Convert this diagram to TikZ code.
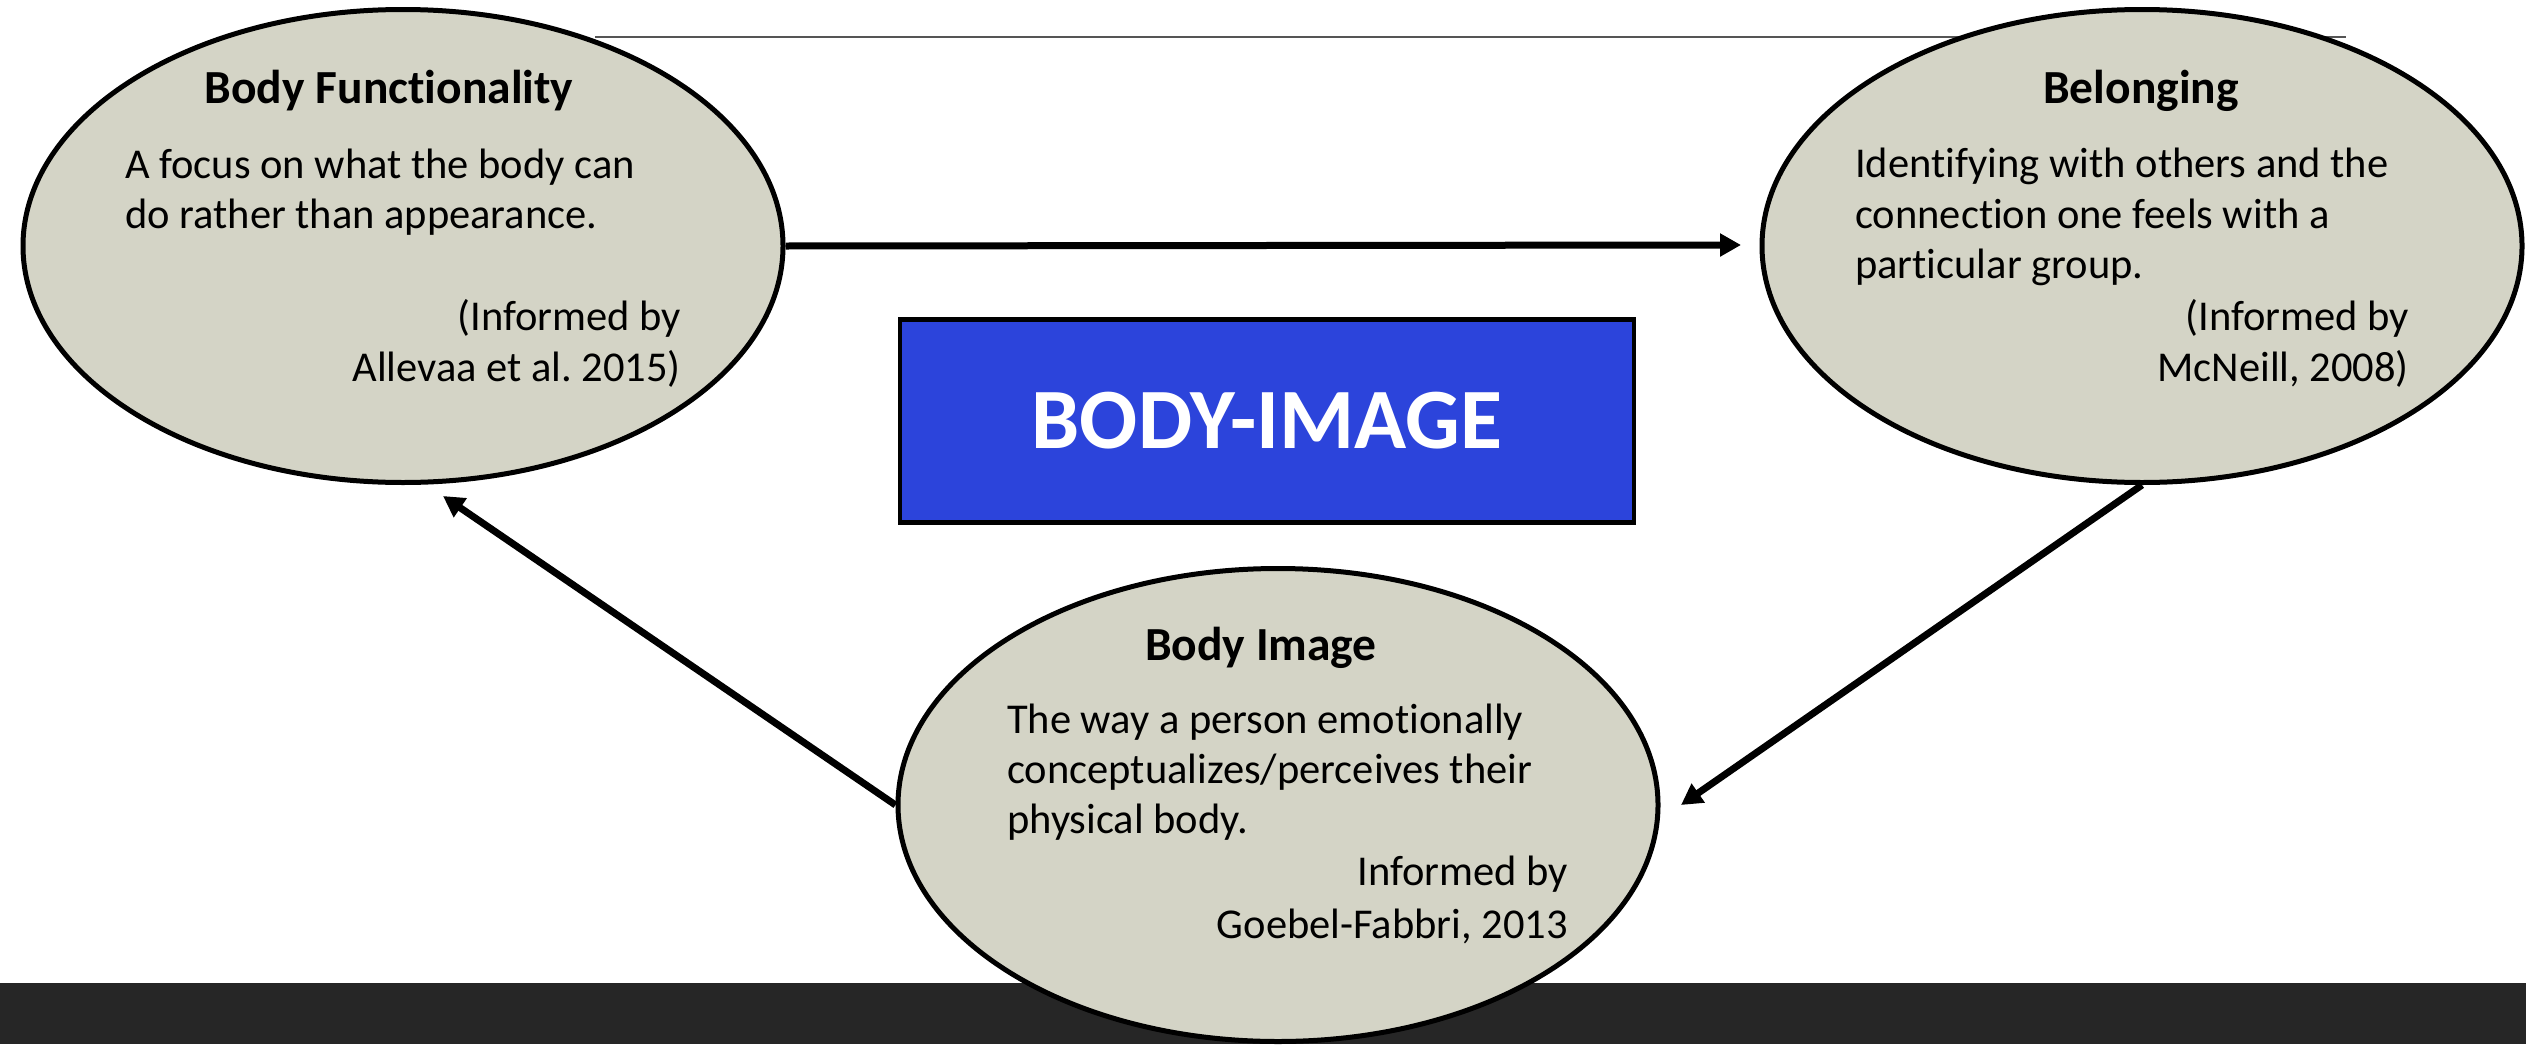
\documentclass[tikz,border=0pt]{standalone}
\usepackage{fontspec}
\setmainfont[RawFeature={-liga;-clig}]{Carlito}
\frenchspacing
\usetikzlibrary{shapes.geometric,arrows.meta}
\definecolor{ellfill}{RGB}{212,212,198}
\definecolor{boxblue}{RGB}{44,68,219}
\definecolor{barcol}{RGB}{38,38,38}
\definecolor{topline}{RGB}{85,85,85}
\tikzset{
  oval/.style={ellipse, draw=black, line width=5pt, fill=ellfill, minimum width=760pt, minimum height=473pt, inner sep=0pt},
  ttl/.style={anchor=base, font=\fontsize{47.5}{55}\selectfont\bfseries, inner sep=0pt},
  bodyl/.style={anchor=base west, font=\fontsize{42.5}{50}\selectfont, inner sep=0pt},
  bodyr/.style={anchor=base east, font=\fontsize{42.5}{50}\selectfont, inner sep=0pt},
  conn/.style={line width=7pt, -{Triangle[length=21pt,width=22pt]}},
}
\begin{document}
\begin{tikzpicture}[x=1pt,y=-1pt]
\useasboundingbox (0,0) rectangle (2526,1044);
% bottom bar
\fill[barcol] (0,983) rectangle (2526,1044);
% top thin line (behind ellipses)
\coordinate (tl1) at (595,37);
\coordinate (tl2) at (2346,37);
\draw[topline, line width=2.5pt] (tl1) -- (tl2);
% ellipses
\node[oval] (L) at (403,246) {};
\node[oval] (R) at (2142,246) {};
\node[oval] (B) at (1278,805) {};
% central box
\node[draw=black, line width=4.5pt, fill=boxblue, minimum width=734pt, minimum height=203pt, inner sep=0pt,
      text=white, font=\fontsize{86}{100}\selectfont\bfseries] (C) at (1267,421) {BODY-IMAGE};
% connectors
\coordinate (a1) at (1741,245);
\coordinate (a2) at (1681,805);
\coordinate (a3) at (443,496);
\draw[conn] (L.east) -- (a1);
\draw[conn] (R.south) -- (a2);
\draw[conn] (B.west) -- (a3);
% left texts
\node[ttl] (L0) at (389,103) {Body Functionality};
\node[bodyl] (L1) at (125,178) {A focus on what the body can};
\node[bodyl] (L2) at (125,228) {do rather than appearance.};
\node[bodyr] (L3) at (681,330) {(Informed by};
\node[bodyr] (L4) at (681,381) {Allevaa et al. 2015)};
% right texts
\node[ttl] (R0) at (2141,103) {Belonging};
\node[bodyl] (R1) at (1855,177) {Identifying with others and the};
\node[bodyl] (R2) at (1855,228) {connection one feels with a};
\node[bodyl] (R3) at (1855,278) {particular group.};
\node[bodyr] (R4) at (2409,330) {(Informed by};
\node[bodyr] (R5) at (2409,381) {McNeill, 2008)};
% bottom texts
\node[ttl] (B0) at (1261,660) {Body Image};
\node[bodyl] (B1) at (1007,733) {The way a person emotionally};
\node[bodyl] (B2) at (1007,783) {conceptualizes/perceives their};
\node[bodyl] (B3) at (1007,833) {physical body.};
\node[bodyr] (B4) at (1568,885) {Informed by};
\node[bodyr] (B5) at (1568,938) {Goebel-Fabbri, 2013};
\end{tikzpicture}
\end{document}
